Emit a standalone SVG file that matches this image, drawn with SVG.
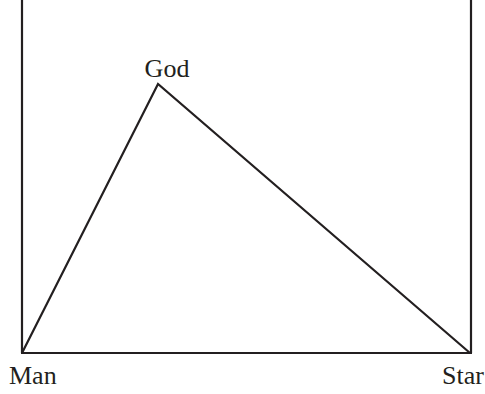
<svg xmlns="http://www.w3.org/2000/svg" width="485" height="394" viewBox="0 0 485 394">
<style>
.l{stroke:#231f20;stroke-width:2.2;fill:none;stroke-linejoin:miter}
.t{font-family:"Liberation Serif",serif;font-size:26px;fill:#231f20}
</style>
<rect width="485" height="394" fill="#fff"/>
<g id="connectors">
<line class="l" x1="22" y1="0" x2="22" y2="353"/>
<line class="l" x1="471" y1="0" x2="471" y2="353"/>
<line class="l" x1="21" y1="353" x2="472" y2="353"/>
<polyline class="l" points="22,353 158,84 470,353"/>
</g>
<g id="god"><text class="t" x="167" y="77" text-anchor="middle">God</text></g>
<g id="man"><text class="t" x="9" y="384">Man</text></g>
<g id="star"><text class="t" x="484" y="384" text-anchor="end">Star</text></g>
</svg>
